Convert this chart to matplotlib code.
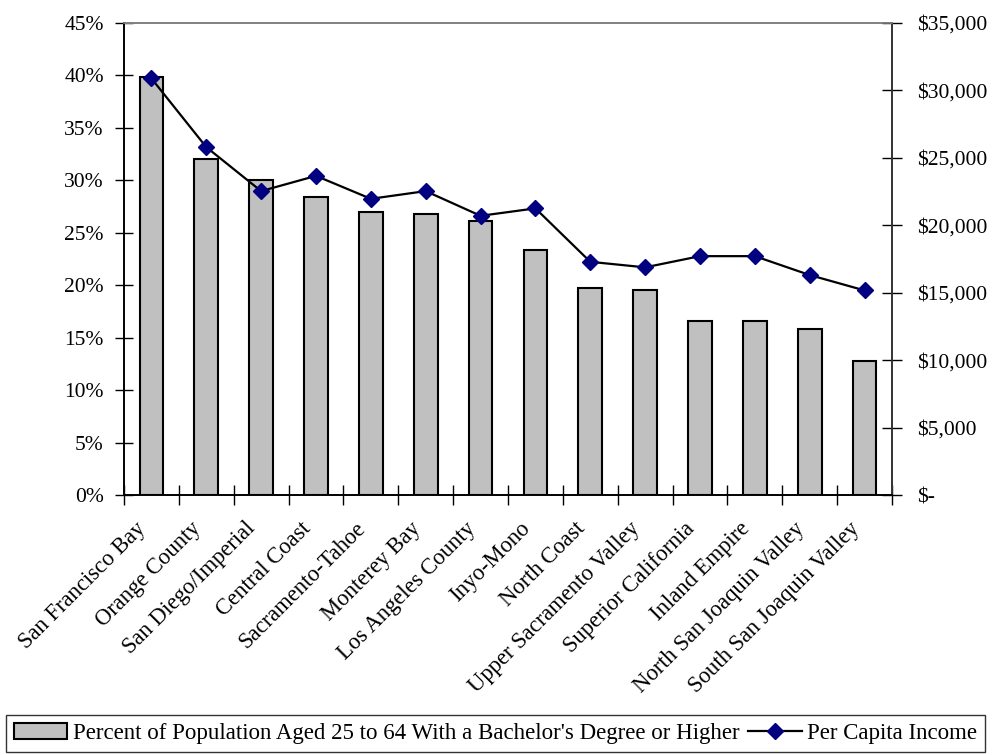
import matplotlib
matplotlib.use("Agg")
import matplotlib.pyplot as plt
from matplotlib.ticker import FuncFormatter, MultipleLocator, FixedLocator
import matplotlib.transforms as mtransforms
import numpy as np

regions = [
    "San Francisco Bay", "Orange County", "San Diego/Imperial", "Central Coast",
    "Sacramento-Tahoe", "Monterey Bay", "Los Angeles County", "Inyo-Mono",
    "North Coast", "Upper Sacramento Valley", "Superior California",
    "Inland Empire", "North San Joaquin Valley", "South San Joaquin Valley",
]
bachelor_pct = [39.8, 32.0, 30.0, 28.4, 27.0, 26.8, 26.1, 23.3,
                19.7, 19.5, 16.6, 16.6, 15.8, 12.8]
per_capita_income = [30870, 25780, 22520, 23650, 21950, 22520, 20690, 21240,
                     17280, 16870, 17700, 17700, 16300, 15160]

bar_label = "Percent of Population Aged 25 to 64 With a Bachelor's Degree or Higher"
line_label = "Per Capita Income"

plt.rcParams["font.family"] = ["Liberation Serif", "DejaVu Serif"]
TICK_FS = 15.5
CAT_FS = 16.3
LEG_FS = 16.5

fig = plt.figure(figsize=(9.97, 7.55), dpi=100)
ax = fig.add_axes([124 / 997, 1 - 495 / 755, (892 - 124) / 997, (495 - 22.7) / 755])
ax2 = ax.twinx()

x = np.arange(len(regions))
bars = ax.bar(x, bachelor_pct, width=0.43, color="#C0C0C0", edgecolor="black",
              linewidth=1.5, label=bar_label, zorder=2)
line, = ax2.plot(x, per_capita_income, color="black", linewidth=1.6,
                 marker="D", markersize=8, markerfacecolor="#000080",
                 markeredgecolor="#000080", label=line_label, zorder=3)

ax.set_xlim(-0.5, len(regions) - 0.5)
ax.set_ylim(0, 45)
ax2.set_ylim(0, 35000)

ax.yaxis.set_major_locator(MultipleLocator(5))
ax.yaxis.set_major_formatter(FuncFormatter(lambda v, p: f"{v:.0f}%"))
ax2.yaxis.set_major_locator(MultipleLocator(5000))
ax2.yaxis.set_major_formatter(
    FuncFormatter(lambda v, p: "$-" if v == 0 else f"${v:,.0f}"))

# ticks at category boundaries, labels at category centres
ax.xaxis.set_major_locator(FixedLocator(np.arange(-0.5, len(regions), 1.0)))
ax.xaxis.set_major_formatter(FuncFormatter(lambda v, p: ""))
ax.xaxis.set_minor_locator(FixedLocator(x))
ax.set_xticklabels(regions, minor=True, rotation=45, ha="right",
                   rotation_mode="anchor", fontsize=CAT_FS)
ax.tick_params(axis="x", which="minor", length=0, pad=16.5)
ax.tick_params(axis="x", which="major", direction="inout", length=14, width=1)
shift = mtransforms.ScaledTranslation(-16 / 100, 0, fig.dpi_scale_trans)
for lbl in ax.get_xticklabels(minor=True):
    lbl.set_transform(lbl.get_transform() + shift)

ax.tick_params(axis="y", direction="inout", length=13, width=1,
               labelsize=TICK_FS, pad=8)
ax2.tick_params(axis="y", direction="inout", length=14, width=1,
                labelsize=TICK_FS, pad=11)
for lbl in ax2.get_yticklabels():
    lbl.set_ha("left")

for a in (ax, ax2):
    a.spines["top"].set_color("#808080")
    a.spines["left"].set_color("black")
    a.spines["right"].set_color("#333333")
    a.spines["bottom"].set_color("black")
    for s in a.spines.values():
        s.set_linewidth(1.2)

leg = fig.legend([bars, line], [bar_label, line_label], ncol=2,
                 loc="lower center", bbox_to_anchor=(0.497, 0.004),
                 fontsize=LEG_FS, frameon=True, fancybox=False, edgecolor="black",
                 handlelength=2.35, handletextpad=0.25, columnspacing=0.35,
                 borderpad=0.35, borderaxespad=0.0)
leg.get_frame().set_linewidth(1.0)

fig.savefig("out.png", dpi=100)
